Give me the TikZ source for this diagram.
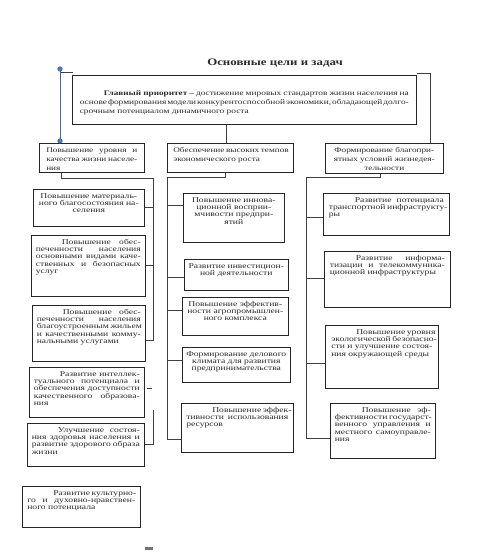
\documentclass[tikz,border=0pt]{standalone}
\usepackage{fontspec}
\newfontfamily\tnr[FakeStretch=1.3]{Liberation Serif}
\usetikzlibrary{calc}
\definecolor{hdl}{HTML}{4F81BD}
\definecolor{txt}{HTML}{2A2A2A}
\def\strutx{\vrule height 5.3pt depth 2pt width 0pt}
\newcommand\LJ[1]{\hbox to \hsize{\strutx #1}}
\newcommand\LI[2][26pt]{\hbox to \hsize{\strutx\kern#1\relax #2}}
\newcommand\LL[1]{\hbox to \hsize{\strutx #1\hfil}}
\newcommand\LC[1]{\hbox to \hsize{\strutx\hfil #1\hfil}}
\def\fsz{7.4}\def\bls{7.3}\def\firstbl{9pt}
\newcommand\bx[7]{%
 \node[bxst, anchor=north west] (#1) at (#2,-#3) {%
  \vbox to \dimexpr#5pt-#3pt\relax{%
   \vskip\dimexpr\firstbl-5.3pt\relax
   \hbox to \dimexpr#4pt-#2pt\relax{\kern#6pt\vtop{\hsize=\dimexpr#4pt-#2pt-#6pt-#6pt\relax
     \tnr\fontsize{\fsz}{\bls}\selectfont\baselineskip=\bls pt\lineskiplimit=-20pt\lineskip=0pt
     #7}\hfil}%
   \vfil}};%
}
\tikzset{
 bxst/.style={draw=black!85, line width=0.6pt, inner sep=0pt, text=txt},
 ln/.style={draw=black!75, line width=0.7pt},
 dot/.style={fill=hdl, draw=hdl!70!black, line width=0.3pt}
}
\begin{document}
\begin{tikzpicture}[x=1pt,y=1pt]
\useasboundingbox (0,0) rectangle (489,-554);
\fill[white] (0,0) rectangle (489,-554);

\node[text=txt, font=\tnr\bfseries\fontsize{9.9}{12}\selectfont] (title) at (275,-63) {Основные цели и задач};

% main box
\def\fsz{7.2}\def\bls{9}\def\firstbl{20.5pt}
\bx{main}{72}{75}{416}{124}{7.5}{%
 {\spaceskip=0.2em plus 2em minus 0.1em
 \LI[24pt]{{\fontsize{7.1}{9}\selectfont\bfseries Главный приоритет –} достижение мировых стандартов жизни населения на}
 \LJ{основе формирования модели конкурентоспособной экономики, обладающей долго-}}
 \LL{срочным потенциалом динамичного роста}}

% level 1
\def\fsz{7.1}\def\bls{9}\def\firstbl{9pt}
\bx{L1}{39}{143}{144}{172}{7}{\LJ{Повышение  уровня  и}\LJ{качества жизни населе-}\LL{ния}}
\bx{M1}{167}{143}{293}{172}{6}{\LL{Обеспечение высоких темпов}\LL{экономического роста}}
\bx{R1}{325}{143}{443}{173}{4}{\LC{Формирование благопри-}\LC{ятных условий жизнедея-}\LC{тельности}}

% level 2
\def\fsz{7.4}\def\bls{7.3}\def\firstbl{9pt}
\bx{L2a}{33}{189}{144}{226}{4.5}{\LC{Повышение материаль-}\LC{ного благосостояния на-}\LC{селения}}
\bx{L2b}{31}{235}{145}{296}{4.5}{\LI{Повышение обес-}\LJ{печенности населения}\LJ{основными видами каче-}\LJ{ственных и безопасных}\LL{услуг}}
\bx{L2c}{32}{305}{145}{361}{4.5}{\LI{Повышение обес-}\LJ{печенности населения}\LJ{благоустроенным жильем}\LJ{и качественными комму-}\LL{нальными услугами}}
\bx{L2d}{29}{367}{144}{417}{4.5}{\LI{Развитие интеллек-}\LJ{туального потенциала и}\LJ{обеспечения доступности}\LJ{качественного образова-}\LL{ния}}
\bx{L2e}{27}{423}{144}{466}{4.5}{\LI{Улучшение состоя-}\LJ{ния здоровья населения и}\LJ{развитие здорового образа}\LL{жизни}}
\bx{L2f}{22}{486}{140}{527}{5}{\LI{Развитие культурно-}\LJ{го и духовно-нравствен-}\LL{ного потенциала}}

\bx{M2a}{183}{193}{284}{242}{4}{\LC{Повышение иннова-}\LC{ционной восприи-}\LC{мчивости предпри-}\LC{ятий}}
\bx{M2b}{184}{259}{288}{290}{4}{\LC{Развитие инвестицион-}\LC{ной деятельности}}
\bx{M2c}{182}{297}{288}{335}{4}{\LC{Повышение эффектив-}\LC{ности агропромышлен-}\LC{ного комплекса}}
\bx{M2d}{182}{347}{290}{382}{4}{\LC{Формирование делового}\LC{климата для развития}\LC{предпринимательства}}
\bx{M2e}{181}{403}{293}{452}{5}{\LI{Повышение эффек-}\LJ{тивности использования}\LL{ресурсов}}

\bx{R2a}{323}{193}{449}{235}{5.5}{\LI{Развитие потенциала}\LJ{транспортной инфраструкту-}\LL{ры}}
\bx{R2b}{324}{251}{450}{307}{5.5}{\LI{Развитие информа-}\LJ{тизации и телекоммуника-}\LL{ционной инфраструктуры}}
\bx{R2c}{325}{325}{438}{388}{6}{\LI[25pt]{Повышение уровня}\LJ{экологической безопасно-}\LJ{сти и улучшение состоя-}\LL{ния окружающей среды}}
\bx{R2d}{330}{403}{435}{458}{4.5}{\LI[27pt]{Повышение эф-}\LJ{фективности государст-}\LJ{венного управления и}\LJ{местного самоуправле-}\LL{ния}}

% top connectors
\coordinate (tlA) at (73,-72);
\coordinate (tlB) at (60,-72);
\coordinate (dA) at (60,-69);
\coordinate (dB) at (60,-141);
\draw[ln] (tlA) -- (tlB);
\draw[ln, draw=hdl!80!black] (dA) -- (dB);
\coordinate (trA) at (417,-73);
\coordinate (trB) at (430,-73);
\draw[ln] (trA) -- (trB) -- (trB |- R1.north);
\coordinate (mc) at (226,0);
\draw[ln] (main.south -| mc) -- (M1.north -| mc);

% left bus
\coordinate (lx) at (61,0);
\coordinate (busL) at (153,-178);
\draw[ln] (L1.south -| lx) |- (busL) -- (busL |- 0,-340) -- (L2c.east |- 0,-340);
\draw[ln] (L2a.east) -- (L2a.east -| busL);
\draw[ln] (L2b.east) -- (L2b.east -| busL);
\coordinate (tk1) at (147,-388);
\coordinate (tk2) at (152,-388);
\draw[ln] (tk1) -- (tk2);
\coordinate (lb1) at (153,-410);
\draw[ln] (lb1) -- (lb1 |- 0,-444) -- (L2e.east |- 0,-444);

% middle bus
\coordinate (mx) at (225,0);
\coordinate (busM) at (167,-177);
\draw[ln] (M1.south -| mx) |- (busM) -- (busM |- 0,-439) -- (M2e.west |- 0,-439);
\draw[ln] (busM |- 0,-205) -- (M2a.west |- 0,-205);
\draw[ln] (busM |- 0,-277) -- (M2b.west |- 0,-277);
\draw[ln] (busM |- 0,-310) -- (M2c.west |- 0,-310);
\draw[ln] (busM |- 0,-360) -- (M2d.west |- 0,-360);

% right bus
\coordinate (rx) at (380,0);
\coordinate (busR) at (306,-177);
\draw[ln] (R1.south -| rx) |- (busR) -- (busR |- 0,-438) -- (R2d.west |- 0,-438);
\draw[ln] (busR |- 0,-217) -- (R2a.west |- 0,-217);
\draw[ln] (busR |- 0,-278) -- (R2b.west |- 0,-278);
\draw[ln] (busR |- 0,-363) -- (R2c.west |- 0,-363);

% handles
\fill[dot] (dA) circle (2.2);
\fill[dot] (dB) circle (2.2);
\draw[dot] (dA) circle (2.2);
\draw[dot] (dB) circle (2.2);

% small bar at bottom
\fill[black!55] (145,-547) rectangle (153,-550);
\end{tikzpicture}
\end{document}
